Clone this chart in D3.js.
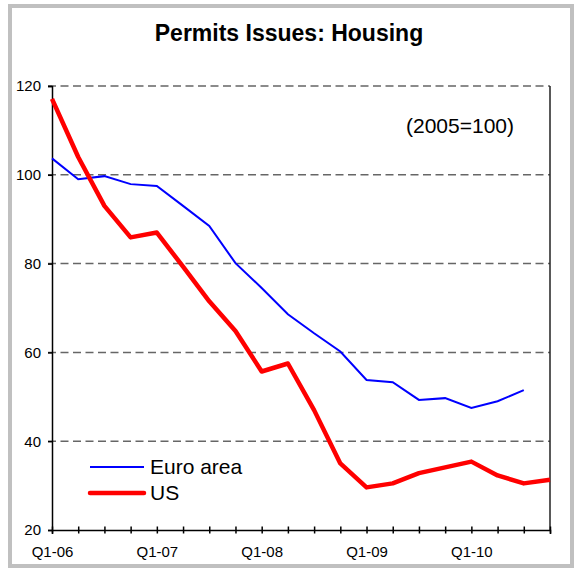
<!DOCTYPE html>
<html>
<head>
<meta charset="utf-8">
<script src="https://cdn.jsdelivr.net/npm/d3@7"></script>
<style>
  body { margin: 0; background: #fff; }
  text { font-family: "Liberation Sans", Arial, sans-serif; fill: #000; }
</style>
</head>
<body>
<div id="chart"></div>
<script>
"use strict";

// quarters on the x axis, Q1-06 .. Q4-10
const quarters = ["Q1-06", "Q2-06", "Q3-06", "Q4-06",
    "Q1-07", "Q2-07", "Q3-07", "Q4-07",
    "Q1-08", "Q2-08", "Q3-08", "Q4-08",
    "Q1-09", "Q2-09", "Q3-09", "Q4-09",
    "Q1-10", "Q2-10", "Q3-10", "Q4-10"];

// labelled quarters
const xTickLabels = ["Q1-06", "Q1-07", "Q1-08", "Q1-09", "Q1-10"];

// y axis ticks
const yTicks = [20, 40, 60, 80, 100, 120];

// series (2005=100)
const euroArea = [103.7, 99.0, 99.7, 97.9, 97.5, 93.0, 88.5, 80.1, 74.5, 68.6,
    64.3, 60.2, 53.8, 53.3, 49.3, 49.7, 47.5, 49.0, 51.5];
const us = [117.1, 104.0, 93.0, 85.9, 87.0, 79.3, 71.5, 64.8, 55.7, 57.5,
    47.0, 35.0, 29.6, 30.5, 32.8, 34.1, 35.4, 32.3, 30.5, 31.3];

const width = 574, height = 568;

const svg = d3.select("#chart").append("svg")
    .attr("width", width)
    .attr("height", height);

// outer frame
svg.append("rect")
    .attr("x", 10).attr("y", 6)
    .attr("width", 562).attr("height", 560)
    .attr("fill", "#fff")
    .attr("stroke", "#c0c0c0")
    .attr("stroke-width", 4);

// title
svg.append("text")
    .attr("x", 289).attr("y", 41)
    .attr("text-anchor", "middle")
    .style("font-size", "23px")
    .style("font-weight", "bold")
    .text("Permits Issues: Housing");

const x = d3.scalePoint()
    .domain(quarters)
    .range([52, 550]);

const y = d3.scaleLinear()
    .domain([20, 120])
    .range([530, 86]);

// dashed gridlines
svg.append("g")
    .selectAll("line")
    .data(yTicks.filter(d => d > 20))
    .enter().append("line")
    .attr("x1", 48).attr("x2", 550)
    .attr("y1", d => y(d)).attr("y2", d => y(d))
    .attr("stroke", "#666")
    .attr("stroke-width", 1.5)
    .attr("stroke-dasharray", "8,4.5");

// right border of the plot
svg.append("line")
    .attr("x1", 550).attr("x2", 550)
    .attr("y1", y(120)).attr("y2", y(20))
    .attr("stroke", "#222")
    .attr("stroke-width", 1.5);

// y axis
const yAxis = svg.append("g")
    .attr("transform", "translate(52,0)")
    .call(d3.axisLeft(y).tickValues(yTicks).tickSize(4).tickPadding(7));
yAxis.select(".domain").attr("stroke", "#000").attr("stroke-width", 1.5);
yAxis.selectAll(".tick line").attr("stroke", "#000").attr("stroke-width", 1.5);
yAxis.selectAll("text").style("font-size", "15px");

// x axis, ticks crossing the axis line
const xAxis = svg.append("g")
    .attr("transform", "translate(0,530)")
    .call(d3.axisBottom(x)
        .tickSizeOuter(0)
        .tickSize(4)
        .tickPadding(12)
        .tickFormat(d => xTickLabels.includes(d) ? d : ""));
xAxis.select(".domain").attr("stroke", "#000").attr("stroke-width", 1.5);
xAxis.selectAll(".tick line")
    .attr("y1", -3.5).attr("y2", 3.5)
    .attr("stroke", "#000").attr("stroke-width", 1.5);
xAxis.selectAll("text").style("font-size", "15px");

// annotation
svg.append("text")
    .attr("x", 460).attr("y", 133)
    .attr("text-anchor", "middle")
    .style("font-size", "21px")
    .text("(2005=100)");

const line = d3.line()
    .x((d, i) => x(quarters[i]))
    .y(d => y(d));

svg.append("path")
    .datum(euroArea)
    .attr("d", line)
    .attr("fill", "none")
    .attr("stroke", "#0000ff")
    .attr("stroke-width", 2);

svg.append("path")
    .datum(us)
    .attr("d", line)
    .attr("fill", "none")
    .attr("stroke", "#ff0000")
    .attr("stroke-width", 4.5)
    .attr("stroke-linejoin", "round");

// legend
const legend = [
    { name: "Euro area", color: "#0000ff", w: 2 },
    { name: "US", color: "#ff0000", w: 4.5 }
];
const lg = svg.append("g").selectAll("g")
    .data(legend)
    .enter().append("g")
    .attr("transform", (d, i) => "translate(90," + (467 + i * 26) + ")");
lg.append("line")
    .attr("x1", 0).attr("x2", 54)
    .attr("stroke", d => d.color)
    .attr("stroke-width", d => d.w)
    .attr("stroke-linecap", d => d.w > 3 ? "round" : "butt");
lg.append("text")
    .attr("x", 60).attr("y", 7)
    .style("font-size", "21px")
    .text(d => d.name);
</script>
</body>
</html>
